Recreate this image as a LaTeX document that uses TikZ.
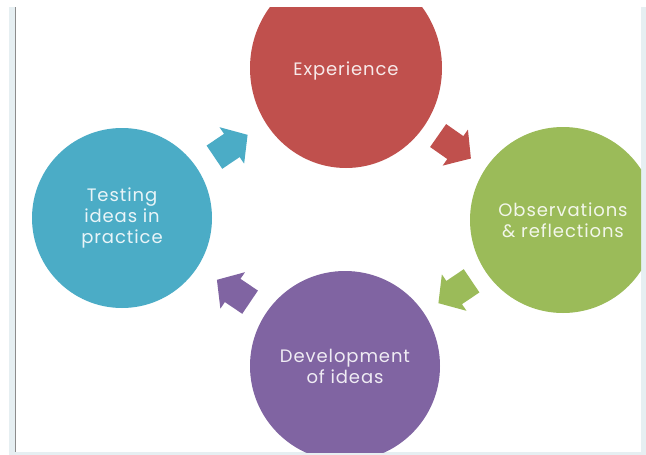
\documentclass[tikz,border=0pt]{standalone}
\usepackage{fontspec}
\setmainfont{Poppins}[LetterSpace=5]
\usetikzlibrary{shapes.geometric,calc}
\definecolor{cred}{HTML}{C0504D}
\definecolor{cgreen}{HTML}{9BBB59}
\definecolor{cpurple}{HTML}{8064A2}
\definecolor{cblue}{HTML}{4BACC6}
\definecolor{band}{HTML}{E6EFF2}
\definecolor{frameline}{HTML}{8C8C8C}
\begin{document}
\begin{tikzpicture}[x=1pt,y=-1pt,
  stage/.style={inner sep=0pt, align=center, text=white, text opacity=0.88,
    font=\fontsize{18}{21}\selectfont},
  blockarrow/.pic={\fill (-20,-14) -- (1,-14) -- (1,-22) -- (20,0) -- (1,22) -- (1,14) -- (-20,14) -- cycle;}
]
\useasboundingbox (0,0) rectangle (646,455);
\fill[white] (0,0) rectangle (646,455);
\fill[band] (9,7) rectangle (646,455);
\fill[white] (16,7) rectangle (641,452);
\draw[frameline, line width=1.2pt] (15.4,7) -- (15.4,452);
\begin{scope}
\clip (16,7) rectangle (641,452);
\node[stage, ellipse, fill=cred, minimum width=192, minimum height=200] (exp) at (346,68) {};
\node[stage] (expt) at (346,71) {Experience};
\node[stage, circle, fill=cgreen, minimum size=186] (obs) at (563,220) {Observations\\\& reflections};
\node[stage, circle, fill=cpurple, minimum size=190] (dev) at (345,366) {Development\\of ideas};
\node[stage, circle, fill=cblue, minimum size=180] (test) at (122,218) {Testing\\ideas in\\practice};
\end{scope}
\pic[cblue, rotate=34] (a1) at ($(test.center)!0.5!(exp.center)+(-3,3)$) {blockarrow};
\pic[cred, rotate=-35] (a2) at ($(exp.center)!0.5!(obs.center)+(0,3)$) {blockarrow};
\pic[cgreen, rotate=214] (a3) at ($(obs.center)!0.5!(dev.center)+(1,-1)$) {blockarrow};
\pic[cpurple, rotate=146] (a4) at ($(dev.center)!0.5!(test.center)+(0,-1)$) {blockarrow};
\end{tikzpicture}
\end{document}
